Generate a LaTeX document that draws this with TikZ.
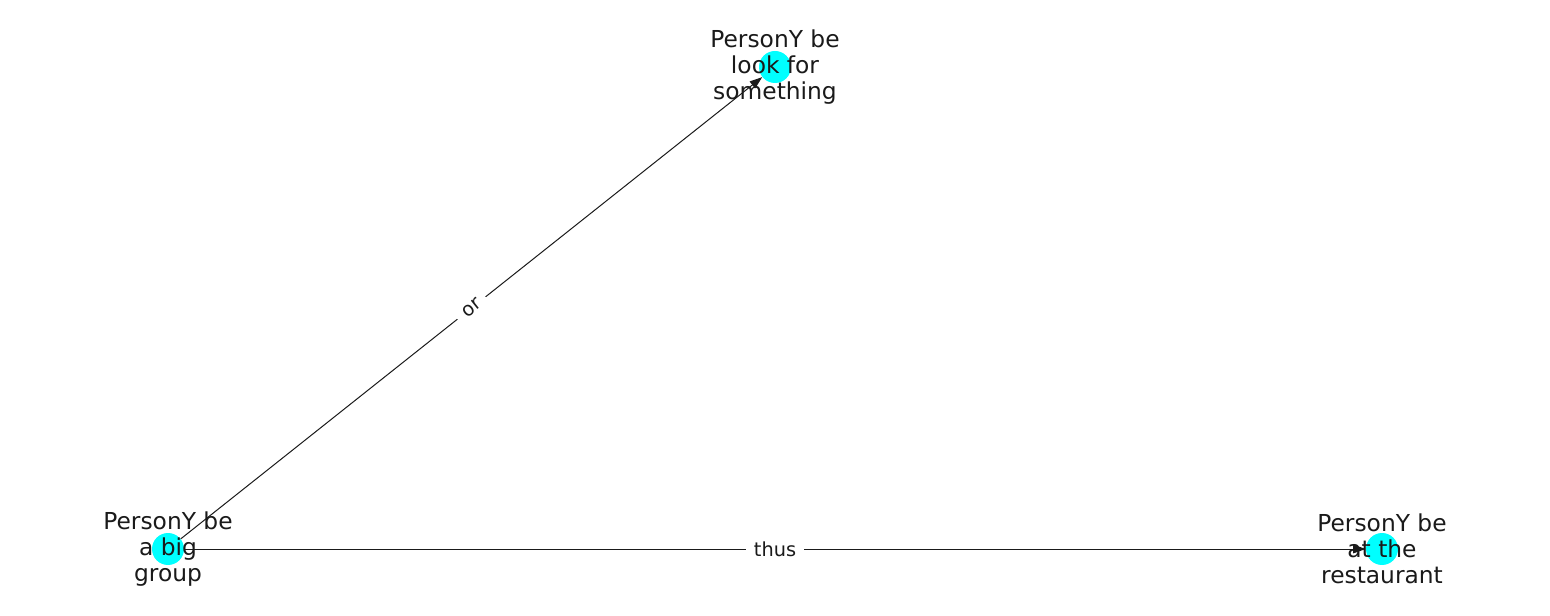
\documentclass[tikz,border=0pt]{standalone}
\usepackage{fontspec}
\setmainfont{DejaVu Sans}
\usetikzlibrary{arrows.meta}
\definecolor{nodecyan}{RGB}{0,255,255}
\definecolor{txt}{RGB}{26,26,26}
\tikzset{
  vertex/.style={circle, fill=nodecyan, draw=none, minimum size=24pt, inner sep=0pt},
  vlabel/.style={align=center, text=txt, font=\fontsize{17.5}{19.7}\selectfont, inner sep=0pt},
  conn/.style={draw=txt, line width=0.75pt, -{Triangle[length=9.5pt,width=6.5pt]}},
  elabel/.style={fill=white, text=txt, font=\fontsize{14.5}{16}\selectfont, inner xsep=6pt, inner ysep=3pt, midway, sloped}
}
\begin{document}
\begin{tikzpicture}[x=0.75pt,y=-0.75pt]
\useasboundingbox (0,0) rectangle (1550,616);
\node[vertex] (a) at (168,549) {};
\node[vertex] (b) at (775,67) {};
\node[vertex] (c) at (1382,549) {};
\draw[conn] (a) -- node[elabel] (lor) {or} (b);
\draw[conn] (a) -- node[elabel] (lthus) {thus} (c);
\node[vlabel] (ta) at (168,549) {PersonY be\\a big\\group};
\node[vlabel] (tb) at (775,67) {PersonY be\\look for\\something};
\node[vlabel] (tc) at (1382,549) {PersonY be\\at the\\restaurant};
\end{tikzpicture}
\end{document}
